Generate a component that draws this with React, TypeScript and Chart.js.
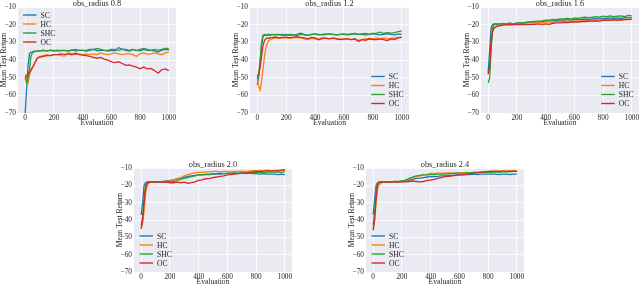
import React, { useEffect, useRef } from "react";
import { Chart, registerables } from "chart.js";
Chart.register(...registerables);

const evals = [0, 10, 20, 30, 40, 50, 60, 70, 80, 90, 100, 125, 150, 175, 200, 225, 250, 275, 300, 325, 350, 375, 400, 425, 450, 475, 500, 525, 550, 575, 600, 625, 650, 675, 700, 725, 750, 775, 800, 825, 850, 875, 900, 925, 950, 975, 1000];
const xTicks = [0, 200, 400, 600, 800, 1000];
const yTicks = [-70, -60, -50, -40, -30, -20, -10];
const seriesNames = ["SC", "HC", "SHC", "OC"];
const seriesColors = ["#1f77b4", "#ff7f0e", "#2ca02c", "#d62728"];

// obs_radius 0.8
const sc08 = [-70, -56, -43, -36.5, -35.5, -35.5, -35, -35.2, -35, -34.8, -35, -34.5, -34.8, -34.5, -35, -34.5, -34.8, -34.6, -35, -34.2, -34.8, -34.5, -34.5, -35, -34.5, -34, -34.8, -34.5, -34.5, -35, -34.5, -34.8, -33, -33.8, -34.5, -35, -34, -34.5, -34.8, -34, -34.5, -34.5, -34.8, -35.5, -34.5, -34, -34.2];
const hc08 = [-48, -50, -53, -49, -45, -44, -43, -41, -40, -39, -38, -37.5, -37, -37.5, -37, -37, -37.5, -37.8, -36, -36.5, -37, -36.5, -37, -36.5, -37, -36.5, -37, -36, -36.5, -37, -36.5, -36, -36.5, -37, -36.5, -36.5, -37, -38, -36.5, -36, -36.8, -36.5, -36, -36.5, -37, -36, -35.5];
const shc08 = [-50, -53, -50, -45, -38, -36, -35.5, -35, -35, -34.8, -34.8, -34.5, -34.8, -34.5, -34.5, -34.8, -34.5, -34.5, -34.8, -34.5, -34, -34.5, -34.5, -34.5, -34, -34, -33.5, -34, -34.5, -34.5, -34, -34, -34.5, -34, -34, -34.5, -34, -34.5, -34, -33.5, -34, -34.5, -34, -34.5, -34, -33.5, -33.5];
const oc08 = [-50, -49, -48, -47, -46, -44.5, -43, -41, -39.5, -38.5, -38.5, -38, -37.5, -37.5, -37, -37, -36.5, -36.8, -36.5, -37, -36.2, -37, -37.2, -37.5, -38, -38.5, -39, -38.5, -39.5, -40, -41, -41.5, -41, -42, -43, -42.8, -43.5, -44, -45, -44, -45, -44.8, -46, -47.5, -45.5, -45, -46];

// obs_radius 1.2
const sc12 = [-54, -50, -42, -32, -26.5, -26, -25.8, -26, -25.5, -26, -25.5, -25.8, -25.5, -26, -25.5, -26, -25.8, -25.5, -24.8, -25.5, -26, -25.5, -25.2, -25.5, -25.8, -25.5, -25.2, -25.5, -25.8, -25.5, -25.5, -25.8, -25.5, -25, -25.5, -25.5, -25.8, -25.5, -25, -25.5, -25.8, -25.5, -25, -25.5, -25.8, -25.2, -25.5];
const hc12 = [-50, -55, -57, -52, -45, -38, -33, -30.5, -29, -28.5, -28, -27.5, -27.8, -27.5, -27.5, -27.8, -27.5, -27.2, -27.5, -28, -28.5, -27.8, -28, -28.5, -28, -27.5, -28, -27.8, -28.2, -28, -28.5, -28, -28.5, -28.2, -28.8, -28.5, -28, -27.8, -28, -27.5, -28, -27.5, -28, -27.8, -27.5, -27.2, -27];
const shc12 = [-50, -48, -40, -30, -26, -25.5, -25.8, -25.5, -26, -25.5, -25.8, -25.5, -25.8, -25.5, -26, -25.5, -25.8, -26, -25.5, -25.8, -26, -25.5, -25.5, -25.8, -25.5, -25.2, -25.5, -25.5, -25.8, -25.5, -25.2, -25.5, -25.2, -25, -25.5, -25.2, -25, -25.5, -25, -24.8, -24.2, -25, -24.5, -24.8, -24.5, -24, -23.5];
const oc12 = [-49, -48, -44, -38, -32, -29, -28, -27.5, -27.8, -27.2, -27.5, -27, -27.5, -27.2, -27, -27.5, -27, -26.8, -27.2, -27.5, -28, -27.2, -27.5, -28.5, -27.5, -27.8, -28, -27.5, -28, -28.5, -28, -28, -28.5, -28, -29.5, -28.5, -28.8, -28, -28.5, -28.5, -28, -28.5, -29, -28, -28.5, -27.5, -27.2];

// obs_radius 1.6
const sc16 = [-47, -35, -22, -20, -19.5, -19.8, -19.5, -19.5, -19.8, -19.5, -19.5, -19.5, -19.2, -19.5, -19.2, -19, -19.2, -18.8, -18.5, -18.8, -18.5, -18.2, -18, -18, -17.8, -17.5, -17.8, -17.5, -17.2, -17.5, -17, -17.2, -17, -16.8, -17, -16.8, -16.5, -16.8, -16.5, -16.5, -16.2, -16.5, -16.2, -16.5, -16, -16.2, -16];
const hc16 = [-48, -45, -32, -24, -22, -21, -20.5, -20.5, -20.2, -20, -20, -19.8, -19.8, -19.5, -19.5, -19.5, -19.2, -19, -19, -19, -18.8, -18.8, -18.5, -18.5, -18.5, -18.2, -18.2, -18, -18.2, -18, -17.8, -18, -17.8, -17.5, -17.8, -17.5, -17.8, -17.2, -17.5, -17.5, -17.2, -17.5, -17.2, -17.5, -17, -17.2, -17];
const shc16 = [-53, -50, -35, -22, -20, -19.5, -19.8, -19.5, -19.5, -19.5, -19.3, -19.5, -19.2, -19.5, -19, -19.2, -18.8, -18.5, -18.5, -18.2, -18, -17.8, -17.5, -17.5, -17, -17.2, -16.8, -16.8, -16.5, -16.8, -16.2, -16.5, -16, -15.8, -16, -15.8, -15.5, -15.8, -15.2, -15.5, -15, -15.5, -15.2, -15, -15.5, -14.8, -15];
const oc16 = [-48, -44, -30, -24, -22, -21.5, -21, -20.8, -20.5, -20.5, -20.2, -20, -20.2, -20, -20, -20, -19.8, -20, -19.8, -19.8, -19.5, -19.8, -19.5, -19.8, -19.2, -19, -19, -18.8, -18.8, -18.5, -18.5, -18.5, -18.2, -18.2, -18, -18, -17.8, -18, -17.5, -17.5, -17.5, -17.2, -17.5, -17.2, -17.2, -17, -17];

// obs_radius 2.0
const sc20 = [-37, -30, -20, -18.5, -18, -18, -18, -18, -18.2, -18, -18, -18, -17.8, -17.5, -17.2, -16.8, -16.2, -15.8, -15.2, -14.8, -14.5, -14.2, -14, -14, -13.8, -13.8, -13.5, -13.5, -13.5, -13.2, -13.2, -13.2, -13, -13.2, -13, -13.2, -13, -13.2, -13.2, -13.5, -13.2, -13.5, -13.5, -13.5, -13.8, -13.5, -13.8];
const hc20 = [-45, -42, -35, -25, -21, -19, -18.5, -18.2, -18, -18, -18, -18, -17.8, -17.8, -17.5, -17, -16.2, -15.5, -14.5, -13.8, -13.2, -12.8, -12.5, -12.5, -12.2, -12.2, -12, -12, -12.2, -12, -12, -12.2, -12, -12, -11.8, -12, -11.8, -11.5, -11.5, -11.8, -11.5, -11.2, -11.5, -11.5, -11.2, -11.5, -11.5];
const shc20 = [-43, -38, -27, -20, -18.5, -18.2, -18, -18, -18.2, -18, -18, -18, -18, -18.2, -18, -17.8, -17.2, -16.5, -16, -15.5, -15, -14.5, -14, -13.8, -13.5, -13.5, -13.2, -13.2, -13, -13.2, -13, -13, -12.8, -13, -12.8, -12.8, -12.5, -12.8, -12.5, -12.5, -12.8, -12.5, -12.2, -12.5, -12.2, -12.5, -12.2];
const oc20 = [-45, -40, -30, -22, -19, -18.5, -18.2, -18, -18, -18.2, -18, -18, -18.2, -18, -18.5, -18.5, -18.2, -18.5, -18.2, -18.8, -18.5, -18, -17.2, -16.8, -16.2, -16, -15.5, -15.2, -14.8, -14.5, -14, -13.8, -13.5, -13.2, -13, -12.8, -12.5, -12.2, -12, -11.8, -12, -11.5, -11.8, -11.5, -11.8, -11.2, -11];

// obs_radius 2.4
const sc24 = [-37, -28, -20, -18.5, -18, -18, -18, -18.2, -18, -18, -18, -18, -17.8, -18, -17.5, -17.5, -17, -16.5, -16, -15.8, -15.5, -15.2, -15, -15, -14.8, -14.5, -14.5, -14.2, -14.2, -14, -14, -14, -13.8, -13.8, -13.5, -13.8, -13.5, -13.5, -13.5, -13.5, -13.5, -13.8, -13.5, -13.5, -13.8, -13.5, -13.5];
const hc24 = [-45, -40, -30, -22, -20, -19, -18.5, -18.2, -18, -18, -18, -18, -18, -17.8, -18, -17.5, -16.5, -15.5, -15, -14.5, -14, -13.8, -13, -13.2, -13, -13, -13, -12.8, -13, -13, -12.8, -12.8, -12.5, -12.8, -12.5, -12.5, -12.2, -12.2, -12, -12, -12, -11.8, -12, -11.8, -11.8, -11.5, -11.5];
const shc24 = [-43, -35, -23, -19, -18.5, -18.2, -18, -18, -18.2, -18, -18, -18, -17.8, -17.8, -17.5, -17, -16, -15.2, -14.5, -14.2, -14, -14, -13.8, -13.8, -13.5, -13.5, -13.5, -13.2, -13.2, -13, -13, -13, -12.8, -12.8, -12.5, -12.5, -12.5, -12.5, -12.5, -12.5, -12.2, -12.5, -12.2, -12.2, -12.2, -12, -12];
const oc24 = [-46, -40, -28, -20, -18.5, -18.2, -18, -18, -18, -18, -18, -18, -18, -18.2, -18, -18, -17.8, -17.5, -17.8, -18, -17.8, -17.2, -17, -16.5, -16, -15.5, -15, -14.8, -14.5, -14.2, -14, -13.8, -13.5, -13.2, -13, -12.8, -12.5, -12.2, -12, -12, -11.8, -12, -11.8, -12, -11.8, -12, -12];

const FONT = "'Liberation Serif', 'DejaVu Serif', serif";
const TEXT = "#262626";

type Area = { L: number; T: number; R: number; B: number };
type PanelDef = { title: string; series: number[][]; legend: "ul" | "lr" | "ll"; area: Area };

const panels: PanelDef[] = [
  { title: "obs_radius 0.8", series: [sc08, hc08, shc08, oc08], legend: "ul", area: { L: 18, T: 7, R: 176, B: 113 } },
  { title: "obs_radius 1.2", series: [sc12, hc12, shc12, oc12], legend: "lr", area: { L: 250, T: 7, R: 409, B: 113 } },
  { title: "obs_radius 1.6", series: [sc16, hc16, shc16, oc16], legend: "lr", area: { L: 481, T: 7, R: 639, B: 113 } },
  { title: "obs_radius 2.0", series: [sc20, hc20, shc20, oc20], legend: "ll", area: { L: 134, T: 168, R: 292, B: 272 } },
  { title: "obs_radius 2.4", series: [sc24, hc24, shc24, oc24], legend: "ll", area: { L: 366, T: 168, R: 524, B: 272 } },
];

const YW = 20;
const PT = 8;
const PR = 4;
const XH = 20;

const bgPlugin = {
  id: "bgArea",
  beforeDraw(chart: any) {
    const { ctx, chartArea: a } = chart;
    ctx.save();
    ctx.fillStyle = "#EAEAF2";
    ctx.fillRect(a.left, a.top, a.right - a.left, a.bottom - a.top);
    ctx.restore();
  },
};

function makeOverlay(title: string, legend: string) {
  return {
    id: "overlay",
    afterDraw(chart: any) {
      const { ctx, chartArea: a } = chart;
      ctx.save();
      ctx.fillStyle = TEXT;
      ctx.font = `8.3px ${FONT}`;
      ctx.textAlign = "center";
      ctx.textBaseline = "alphabetic";
      ctx.fillText(title, (a.left + a.right) / 2, a.top - 1.5);

      ctx.font = `7.6px ${FONT}`;
      ctx.textAlign = "left";
      ctx.textBaseline = "middle";
      const lineLen = 13.5;
      const gap = 4;
      const rowH = 9;
      let maxW = 0;
      seriesNames.forEach((n) => (maxW = Math.max(maxW, ctx.measureText(n).width)));
      let x0: number;
      let y0: number;
      if (legend === "ul") {
        x0 = a.left + 5;
        y0 = a.top + 8;
      } else if (legend === "lr") {
        x0 = a.right - 5.5 - maxW - gap - lineLen;
        y0 = a.bottom - 9.5 - rowH * 3;
      } else {
        x0 = a.left + 5.5;
        y0 = a.bottom - 9 - rowH * 3;
      }
      seriesNames.forEach((n, i) => {
        const y = y0 + i * rowH;
        ctx.strokeStyle = seriesColors[i];
        ctx.lineWidth = 1.4;
        ctx.beginPath();
        ctx.moveTo(x0, y);
        ctx.lineTo(x0 + lineLen, y);
        ctx.stroke();
        ctx.fillStyle = TEXT;
        ctx.fillText(n, x0 + lineLen + gap, y + 0.5);
      });
      ctx.restore();
    },
  };
}

function Panel({ def }: { def: PanelDef }) {
  const ref = useRef<HTMLCanvasElement | null>(null);
  const { L, T, R, B } = def.area;
  const left = L - YW;
  const top = T - PT;
  const width = R - L + YW + PR;
  const height = B - T + PT + XH;

  useEffect(() => {
    if (!ref.current) return;
    const tickFont = { family: FONT, size: 7.3 };
    const labelFont = { family: FONT, size: 7.6 };
    const chart = new Chart(ref.current, {
      type: "line",
      data: {
        datasets: def.series.map((s, i) => ({
          label: seriesNames[i],
          data: evals.map((x, j) => ({ x, y: s[j] })),
          borderColor: seriesColors[i],
          backgroundColor: seriesColors[i],
          borderWidth: 1.3,
          pointRadius: 0,
          tension: 0,
          order: 3 - i,
        })),
      },
      options: {
        animation: false,
        responsive: false,
        maintainAspectRatio: false,
        events: [],
        layout: { padding: { top: PT, right: PR, left: 0, bottom: 0 } },
        plugins: {
          legend: { display: false },
          tooltip: { enabled: false },
          title: { display: false },
        },
        scales: {
          x: {
            type: "linear",
            min: -50,
            max: 1050,
            afterBuildTicks: (s: any) => {
              s.ticks = xTicks.map((v) => ({ value: v }));
            },
            afterFit: (s: any) => {
              s.height = XH;
            },
            grid: { color: "#ffffff", lineWidth: 0.8, drawTicks: false },
            border: { display: false },
            ticks: {
              padding: 1,
              font: tickFont,
              color: TEXT,
              maxRotation: 0,
              autoSkip: false,
              callback: (v: any) => String(v),
            },
            title: { display: true, text: "Evaluation", font: labelFont, color: TEXT, padding: { top: 0, bottom: 5.2 } },
          },
          y: {
            type: "linear",
            min: -70,
            max: -10,
            afterBuildTicks: (s: any) => {
              s.ticks = yTicks.map((v) => ({ value: v }));
            },
            afterFit: (s: any) => {
              s.width = YW;
            },
            grid: { color: "#ffffff", lineWidth: 0.8, drawTicks: false },
            border: { display: false },
            ticks: {
              padding: 2,
              font: tickFont,
              color: TEXT,
              autoSkip: false,
              callback: (v: any) => String(v).replace("-", "\u2212"),
            },
            title: { display: true, text: "Mean Test Return", font: labelFont, color: TEXT, padding: { top: 1.2, bottom: 0 } },
          },
        },
      } as any,
      plugins: [bgPlugin, makeOverlay(def.title, def.legend)],
    });
    return () => chart.destroy();
  }, []);

  return (
    <canvas
      ref={ref}
      width={width}
      height={height}
      style={{ position: "absolute", left, top, width, height }}
    />
  );
}

export default function App() {
  useEffect(() => {
    document.body.style.margin = "0";
  }, []);
  return (
    <div style={{ position: "fixed", left: 0, top: 0, width: 640, height: 285, overflow: "hidden", background: "#ffffff" }}>
      {panels.map((p) => (
        <Panel key={p.title} def={p} />
      ))}
    </div>
  );
}
